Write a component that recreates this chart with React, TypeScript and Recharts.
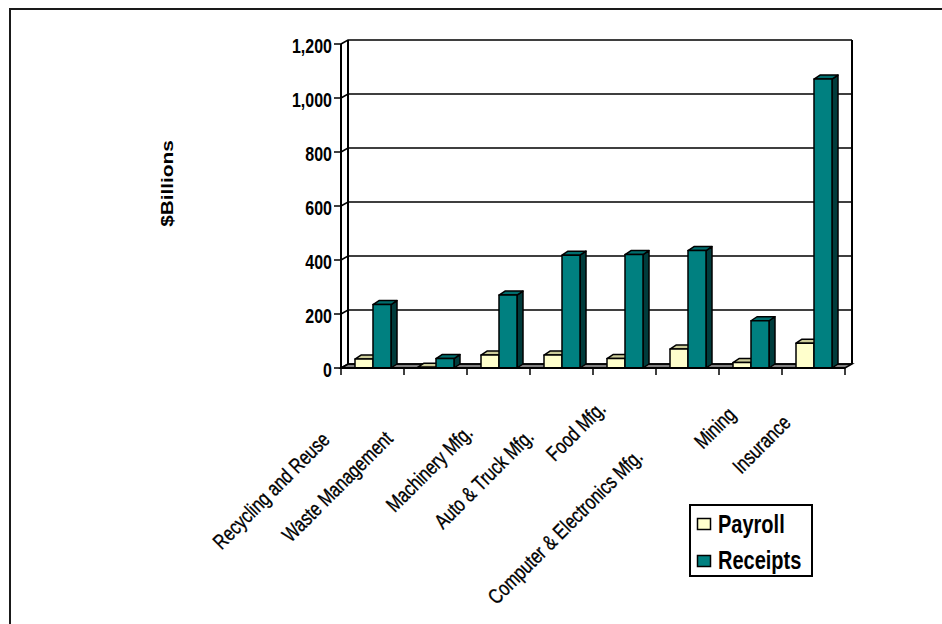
import React from 'react';
import { BarChart, Bar, XAxis, YAxis, CartesianGrid, Legend } from 'recharts';

// Industry categories and their values ($ billions)
const industries = [
  'Recycling and Reuse',
  'Waste Management',
  'Machinery Mfg.',
  'Auto & Truck Mfg.',
  'Food Mfg.',
  'Computer & Electronics Mfg.',
  'Mining',
  'Insurance',
];
const payroll = [33, 3, 48, 48, 35, 70, 20, 92];
const receipts = [235, 35, 270, 418, 420, 435, 175, 1070];
const valueTicks = [0, 200, 400, 600, 800, 1000, 1200];

const data = industries.map((name, i) => ({ name, payroll: payroll[i], receipts: receipts[i] }));

// Layout
const CHART_W = 942;
const CHART_H = 624;
const PLOT_LEFT = 341;
const PLOT_RIGHT = 845;
const PLOT_TOP = 44;
const PLOT_BOTTOM = 368;
const Y_AXIS_W = 60;
const X_AXIS_H = 30;
const WALL_DX = 7;
const WALL_DY = 4;
const BAR_DX = 6;
const BAR_DY = 4;
const FONT = '"Liberation Sans", Arial, sans-serif';
const STRETCH = 1.3;

// Where each rotated category label ends, relative to its category centre
const LABEL_OFFSETS: [number, number][] = [
  [-41.5, 73],
  [-41.5, 72],
  [-24.5, 66],
  [-26.5, 70],
  [-17.5, 42],
  [-43.5, 90],
  [-13.5, 48],
  [-21.5, 56],
];

const PAYROLL_COLORS = { front: '#FFFFCC', top: '#CCCC99', side: '#999966' };
const RECEIPTS_COLORS = { front: '#008080', top: '#006E6E', side: '#003C3C' };

const makeBox = (c: { front: string; top: string; side: string }) => (p: any) => {
  const { x, y, width: w, height: h } = p;
  if (x == null || w == null || h == null) return <g />;
  const stroke = { stroke: '#000', strokeWidth: 1.5, strokeLinejoin: 'round' as const };
  return (
    <g>
      <polygon
        points={`${x + w},${y + h} ${x + w},${y} ${x + w + BAR_DX},${y - BAR_DY} ${x + w + BAR_DX},${y + h - BAR_DY}`}
        fill={c.side}
        {...stroke}
      />
      <polygon
        points={`${x},${y} ${x + BAR_DX},${y - BAR_DY} ${x + w + BAR_DX},${y - BAR_DY} ${x + w},${y}`}
        fill={c.top}
        {...stroke}
      />
      <rect x={x} y={y} width={w} height={h} fill={c.front} {...stroke} />
    </g>
  );
};

// Gridlines run along the side wall and across the back wall; the floor and wall edges hang off them
const WallLine = (p: any) => {
  const { x1, x2, y1, index } = p;
  const isFloor = Math.abs(y1 - PLOT_BOTTOM) < 0.5;
  const isTop = Math.abs(y1 - PLOT_TOP) < 0.5;
  return (
    <g key={`wall-${index}`}>
      {isTop && (
        <>
          <line x1={x1 + WALL_DX} y1={y1 - WALL_DY} x2={x1 + WALL_DX} y2={PLOT_BOTTOM - WALL_DY} stroke="#000" strokeWidth={2} />
          <line x1={x2 + WALL_DX} y1={y1 - WALL_DY} x2={x2 + WALL_DX} y2={PLOT_BOTTOM - WALL_DY} stroke="#000" strokeWidth={2} />
        </>
      )}
      {isFloor && (
        <polygon
          points={`${x1},${y1} ${x2},${y1} ${x2 + WALL_DX},${y1 - WALL_DY} ${x1 + WALL_DX},${y1 - WALL_DY}`}
          fill="#808080"
          stroke="#000"
          strokeWidth={1.5}
        />
      )}
      <polyline
        points={`${x1},${y1} ${x1 + WALL_DX},${y1 - WALL_DY} ${x2 + WALL_DX},${y1 - WALL_DY}`}
        fill="none"
        stroke="#000"
        strokeWidth={1.5}
      />
    </g>
  );
};

const CategoryTick = (p: any) => {
  const { x, payload, index } = p;
  const half = (PLOT_RIGHT - PLOT_LEFT) / industries.length / 2;
  const [dx, dy] = LABEL_OFFSETS[index] ?? [-20, 60];
  return (
    <g>
      <line x1={x - half} y1={PLOT_BOTTOM} x2={x - half} y2={PLOT_BOTTOM + 7} stroke="#000" strokeWidth={1.5} />
      {index === industries.length - 1 && (
        <line x1={x + half} y1={PLOT_BOTTOM} x2={x + half} y2={PLOT_BOTTOM + 7} stroke="#000" strokeWidth={1.5} />
      )}
      <text
        transform={`translate(${x + dx},${PLOT_BOTTOM + dy}) rotate(-45) scale(0.78,1)`}
        textAnchor="end"
        fontSize={21}
        fontFamily={FONT}
        fill="#000"
        stroke="#000"
        strokeWidth={0.35}
      >
        {payload.value}
      </text>
    </g>
  );
};

const ValueTick = (p: any) => {
  const { x, y, payload } = p;
  return (
    <text
      transform={`translate(${x},${y}) scale(1,${STRETCH})`}
      y={7.3}
      textAnchor="end"
      fontSize={16}
      fontWeight="bold"
      fontFamily={FONT}
      fill="#000"
    >
      {Number(payload.value).toLocaleString('en-US')}
    </text>
  );
};

const AxisTitle = () => (
  <text
    transform={`translate(167,183.5) scale(1,${STRETCH}) rotate(-90)`}
    y={5.7}
    textAnchor="middle"
    fontSize={16}
    fontWeight="bold"
    fontFamily={FONT}
    fill="#000"
  >
    $Billions
  </text>
);

const LegendBox = () => (
  <svg width={124} height={73} style={{ display: 'block' }}>
    <rect x={1} y={1} width={122} height={71} fill="#fff" stroke="#000" strokeWidth={2} />
    <rect x={8.5} y={14.5} width={13} height={11} fill={PAYROLL_COLORS.front} stroke="#000" strokeWidth={1.5} />
    <rect x={8.5} y={51.5} width={13} height={11} fill={RECEIPTS_COLORS.front} stroke="#000" strokeWidth={1.5} />
    <text transform={`translate(29,29) scale(1,1.28)`} fontSize={20} fontWeight="bold" fontFamily={FONT} fill="#000">
      Payroll
    </text>
    <text transform={`translate(29,65) scale(1,1.28)`} fontSize={20} fontWeight="bold" fontFamily={FONT} fill="#000">
      Receipts
    </text>
  </svg>
);

export default function App() {
  return (
    <div
      style={{
        position: 'absolute',
        left: 0,
        top: 0,
        width: CHART_W,
        height: CHART_H,
        overflow: 'hidden',
        background: '#fff',
      }}
    >
      <div
        style={{
          position: 'absolute',
          left: 9,
          top: 8,
          width: 940,
          height: 620,
          border: '2px solid #1a1a1a',
        }}
      />
      <div style={{ position: 'absolute', left: 0, top: 0 }}>
        <BarChart
          width={CHART_W}
          height={CHART_H}
          data={data}
          barSize={18}
          barGap={0}
          margin={{
            top: PLOT_TOP,
            right: CHART_W - PLOT_RIGHT,
            bottom: CHART_H - PLOT_BOTTOM - X_AXIS_H,
            left: PLOT_LEFT - Y_AXIS_W,
          }}
        >
          <CartesianGrid vertical={false} horizontal={WallLine} />
          <XAxis
            dataKey="name"
            interval={0}
            height={X_AXIS_H}
            tickLine={false}
            axisLine={{ stroke: '#000', strokeWidth: 2 }}
            tick={CategoryTick}
          />
          <YAxis
            type="number"
            domain={[0, 1200]}
            ticks={valueTicks}
            width={Y_AXIS_W}
            tickSize={7}
            tickLine={{ stroke: '#000', strokeWidth: 1.5 }}
            axisLine={{ stroke: '#000', strokeWidth: 2 }}
            tick={ValueTick}
            label={AxisTitle}
          />
          <Bar dataKey="payroll" name="Payroll" fill={PAYROLL_COLORS.front} shape={makeBox(PAYROLL_COLORS)} isAnimationActive={false} />
          <Bar dataKey="receipts" name="Receipts" fill={RECEIPTS_COLORS.front} shape={makeBox(RECEIPTS_COLORS)} isAnimationActive={false} />
          <Legend
            layout="vertical"
            align="center"
            verticalAlign="middle"
            wrapperStyle={{ position: 'absolute', left: 689, top: 504, width: 124, height: 73 }}
            content={LegendBox}
          />
        </BarChart>
      </div>
    </div>
  );
}
